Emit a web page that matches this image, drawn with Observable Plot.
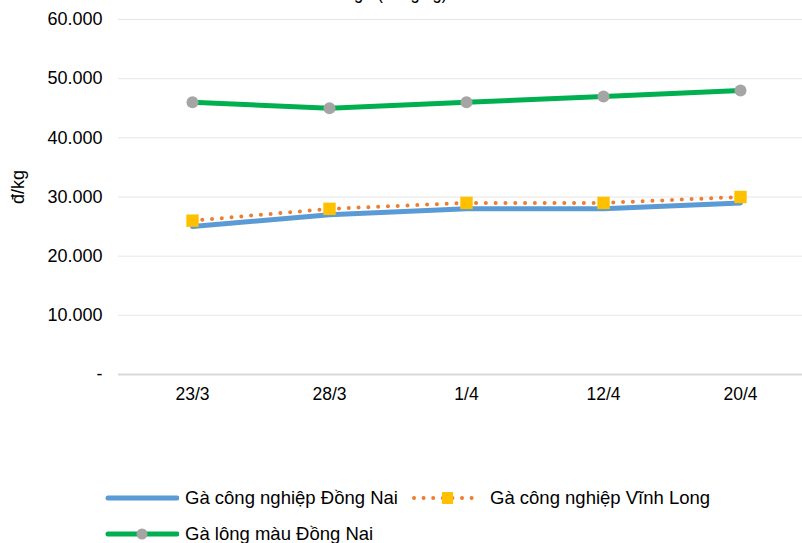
<!DOCTYPE html>
<html>
<head>
<meta charset="utf-8">
<script src="https://cdn.jsdelivr.net/npm/d3@7"></script>
<script src="https://cdn.jsdelivr.net/npm/@observablehq/plot@0.6"></script>
<style>
  body { margin: 0; background: #fff; font-family: "Liberation Sans", Arial, sans-serif; }
  #wrap { position: relative; width: 802px; height: 543px; overflow: hidden; }
  #chart { position: absolute; left: 0; top: 0; }
  .leg { position: absolute; font-size: 18.5px; color: #000; display: flex; align-items: center; white-space: nowrap; height: 22px; }
  .leg svg { margin-right: 6px; }
</style>
</head>
<body>
<div id="wrap">
  <div id="chart"></div>
  <div class="leg" style="left:103px; top:487px;">
    <svg width="76" height="22"><line x1="5" y1="11" x2="74" y2="11" stroke="#5B9BD5" stroke-width="5" stroke-linecap="round"/></svg>
    <span id="l0"></span>
  </div>
  <div class="leg" style="left:409px; top:487px;">
    <svg width="75" height="22"><line x1="5" y1="11" x2="72" y2="11" stroke="#ED7D31" stroke-width="4" stroke-linecap="round" stroke-dasharray="0 9.6"/><rect x="33" y="5" width="11" height="12" fill="#FFC000"/></svg>
    <span id="l1"></span>
  </div>
  <div class="leg" style="left:103px; top:523px;">
    <svg width="76" height="22"><line x1="5" y1="11" x2="74" y2="11" stroke="#00B050" stroke-width="5" stroke-linecap="round"/><circle cx="39" cy="11" r="5.5" fill="#A5A5A5"/></svg>
    <span id="l2"></span>
  </div>
</div>
<script>
const dates = ["23/3", "28/3", "1/4", "12/4", "20/4"];
const seriesNames = ["Gà công nghiệp Đồng Nai", "Gà công nghiệp Vĩnh Long", "Gà lông màu Đồng Nai"];
const dongNaiCN = [25000, 27000, 28000, 28000, 29000];
const vinhLongCN = [26000, 28000, 29000, 29000, 30000];
const dongNaiLongMau = [46000, 45000, 46000, 47000, 48000];
const yTicks = [0, 10000, 20000, 30000, 40000, 50000, 60000];
const yLabel = "đ/kg";
const title = "Giá gà (đồng/kg)";

const mk = (vals) => dates.map((d, i) => ({date: d, value: vals[i]}));
const s0 = mk(dongNaiCN), s1 = mk(vinhLongCN), s2 = mk(dongNaiLongMau);

const fmt = v => v === 0 ? "-" : d3.format(",")(v).replace(/,/g, ".");

const chart = Plot.plot({
  width: 802,
  height: 420,
  marginTop: 19,
  marginBottom: 46,
  marginLeft: 118,
  marginRight: 0,
  style: {fontFamily: "Liberation Sans, Arial, sans-serif", fontSize: "18px", color: "#000", background: "transparent"},
  x: {type: "point", domain: dates, range: [192, 740], padding: 0, label: null},
  y: {domain: [0, 60000], label: null},
  marks: [
    Plot.ruleY(yTicks.filter(t => t > 0), {stroke: "#e6e6e6", strokeWidth: 1}),
    Plot.ruleY([0], {stroke: "#d9d9d9", strokeWidth: 2}),
    Plot.axisY({ticks: yTicks, tickFormat: fmt, tickSize: 0, tickPadding: 16, label: null, fontSize: 18}),
    Plot.axisX({tickSize: 0, tickPadding: 13, label: null, fontSize: 17.5}),
    Plot.text([yLabel], {frameAnchor: "left", dx: -100, dy: 7, rotate: -90, fontSize: 18}),
    Plot.text([title], {frameAnchor: "top-left", dx: 267, dy: -21, lineAnchor: "bottom", textAnchor: "middle", fontSize: 20, className: "ttl"}),
    Plot.line(s2, {x: "date", y: "value", stroke: "#00B050", strokeWidth: 5}),
    Plot.dot(s2, {x: "date", y: "value", r: 6, fill: "#A5A5A5"}),
    Plot.line(s0, {x: "date", y: "value", stroke: "#5B9BD5", strokeWidth: 5}),
    Plot.line(s1, {x: "date", y: "value", stroke: "#ED7D31", strokeWidth: 4, strokeDasharray: "0 9.8", strokeLinecap: "round"}),
    Plot.dot(s1, {x: "date", y: "value", symbol: "square", r: 7, fill: "#FFC000"})
  ]
});
document.getElementById("chart").append(chart);
d3.select(chart).selectAll(".ttl text").each(function() {
  const len = this.getComputedTextLength();
  this.setAttribute("textLength", len * 0.83);
  this.setAttribute("lengthAdjust", "spacingAndGlyphs");
});
document.getElementById("l0").textContent = seriesNames[0];
document.getElementById("l1").textContent = seriesNames[1];
document.getElementById("l2").textContent = seriesNames[2];
</script>
</body>
</html>
